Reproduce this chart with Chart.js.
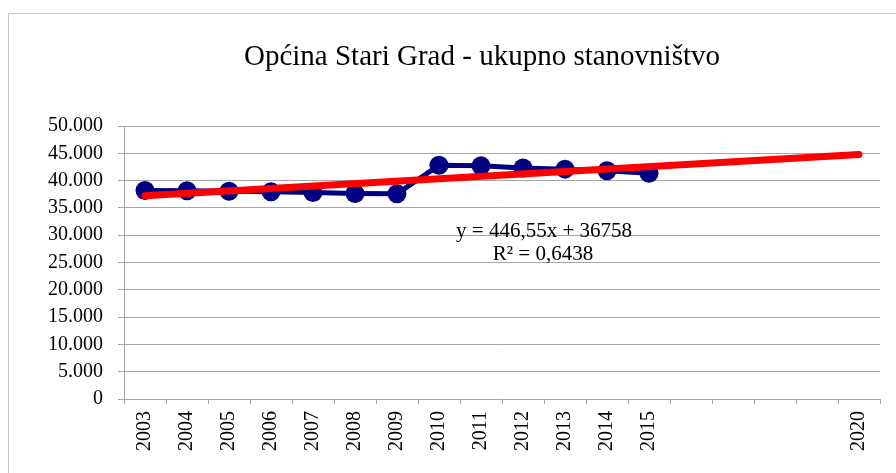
<!DOCTYPE html>
<html>
<head>
<meta charset="utf-8">
<script src="https://cdn.jsdelivr.net/npm/chart.js@4/dist/chart.umd.min.js"></script>
<style>
html,body{margin:0;padding:0;background:#fff;}
canvas{display:block;}
</style>
</head>
<body>
<canvas id="c" width="896" height="473"></canvas>
<script>
const TITLE = 'Općina Stari Grad - ukupno stanovništvo';
const categories = ['2003','2004','2005','2006','2007','2008','2009','2010','2011','2012','2013','2014','2015','','','','','2020'];
const population = [38200, 38150, 38050, 37950, 37800, 37650, 37600, 42800, 42700, 42300, 42100, 41800, 41350];
const trendSlope = 446.55;
const trendIntercept = 36758;
const trendR2 = '0,6438';
const yTicks = [0, 5000, 10000, 15000, 20000, 25000, 30000, 35000, 40000, 45000, 50000];

const fmt = v => String(v).replace(/\B(?=(\d{3})+(?!\d))/g, '.');
const fmtDec = v => String(v).replace('.', ',');

// trendline (Excel linear trend, x = 1..n) drawn from first to last category
const trendData = categories.map((c, i) =>
  (i === 0 || i === categories.length - 1) ? trendIntercept + trendSlope * (i + 1) : null);

const serif = "'Liberation Serif', 'Times New Roman', serif";

const decor = {
  id: 'decor',
  beforeDraw(chart) {
    const ctx = chart.ctx;
    ctx.save();
    ctx.fillStyle = '#fff';
    ctx.fillRect(0, 0, chart.width, chart.height);
    ctx.strokeStyle = '#c8c8c8';
    ctx.lineWidth = 1;
    ctx.beginPath();
    ctx.moveTo(8.5, chart.height);
    ctx.lineTo(8.5, 13.5);
    ctx.lineTo(chart.width, 13.5);
    ctx.stroke();
    ctx.restore();
  },
  afterDraw(chart) {
    const ctx = chart.ctx;
    ctx.save();
    ctx.fillStyle = '#000';
    ctx.textAlign = 'center';
    ctx.textBaseline = 'alphabetic';
    ctx.font = '29px ' + serif;
    ctx.fillText(TITLE, 482, 65);
    ctx.font = '21px ' + serif;
    ctx.fillText('y = ' + fmtDec(trendSlope) + 'x + ' + trendIntercept, 544, 237);
    ctx.fillText('R² = ' + trendR2, 543, 260);
    ctx.restore();
  }
};

new Chart(document.getElementById('c'), {
  type: 'line',
  data: {
    labels: categories,
    datasets: [
      {
        label: 'Trend',
        data: trendData,
        spanGaps: true,
        borderColor: '#ff0000',
        borderWidth: 7,
        borderCapStyle: 'round',
        pointRadius: 0,
        pointHoverRadius: 0,
        order: 0
      },
      {
        label: 'Stanovništvo',
        data: population,
        borderColor: '#000080',
        borderWidth: 5,
        pointRadius: 9.5,
        pointBackgroundColor: '#000080',
        pointBorderColor: '#000080',
        pointBorderWidth: 0,
        tension: 0,
        order: 1
      }
    ]
  },
  options: {
    responsive: false,
    animation: false,
    devicePixelRatio: 1,
    layout: { padding: { top: 126, right: 16, bottom: 0, left: 0 } },
    plugins: {
      legend: { display: false },
      title: { display: false },
      tooltip: { enabled: false }
    },
    scales: {
      x: {
        offset: true,
        afterFit(s) { s.height = 74; },
        grid: {
          offset: true,
          drawOnChartArea: false,
          drawTicks: true,
          tickLength: 5,
          color: '#a6a6a6'
        },
        border: { color: '#a6a6a6', width: 1 },
        ticks: {
          autoSkip: false,
          minRotation: 90,
          maxRotation: 90,
          padding: 7,
          color: '#000',
          font: { family: serif, size: 20 }
        }
      },
      y: {
        min: 0,
        max: 50000,
        afterFit(s) { s.width = 124; },
        afterBuildTicks(s) { s.ticks = yTicks.map(v => ({ value: v })); },
        grid: {
          color: '#a6a6a6',
          drawTicks: true,
          tickLength: 6
        },
        border: { color: '#a6a6a6', width: 1 },
        ticks: {
          padding: 15,
          color: '#000',
          font: { family: serif, size: 20 },
          callback: v => fmt(v)
        }
      }
    }
  },
  plugins: [decor]
});
</script>
</body>
</html>
